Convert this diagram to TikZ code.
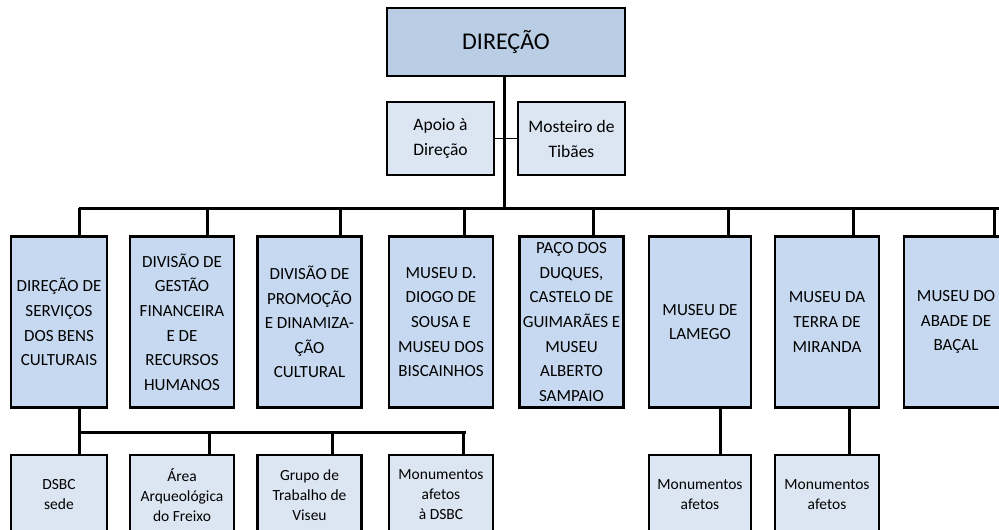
\documentclass[tikz,border=0pt]{standalone}
\usepackage{fontspec}
\setmainfont{Carlito}
\usetikzlibrary{positioning}

\definecolor{topblue}{RGB}{185,205,229}
\definecolor{unitblue}{RGB}{198,217,240}
\definecolor{paleblue}{RGB}{220,230,242}

\tikzset{
  topbox/.style={draw, line width=2.5pt, fill=topblue, minimum width=238pt, minimum height=68pt, inner sep=0pt, font=\fontsize{24}{28}\selectfont},
  sidebox/.style={draw, line width=2.5pt, fill=paleblue, minimum width=107pt, minimum height=73pt, inner sep=0pt, align=center, font=\fontsize{17.5}{25}\selectfont},
  unitbox/.style={draw, line width=2.5pt, fill=unitblue, minimum width=104pt, minimum height=171pt, inner sep=0pt, align=center, font=\fontsize{17}{24.6}\selectfont},
  subbox/.style={draw, line width=2.5pt, fill=paleblue, minimum width=104pt, minimum height=80pt, inner sep=0pt, align=center, font=\fontsize{15.5}{20}\selectfont},
  link/.style={line width=3pt},
}

\begin{document}
\begin{tikzpicture}[x=1pt,y=-1pt]
\clip (0,0) rectangle (999,530);
\fill[white] (0,0) rectangle (999,530);

%Top
\node[topbox] (dir) at (506,42) {DIREÇÃO};
\node[sidebox] (apoio) at (440.5,138.5) {Apoio à\\Direção};
\node[sidebox] (tibaes) at (571.5,138.5) {Mosteiro de\\Tibães};

%Units
\node[unitbox, minimum width=96pt] (dsbc) at (59,322) {DIREÇÃO DE\\SERVIÇOS\\DOS BENS\\CULTURAIS};
\node[unitbox] (dgf) at (182,322) {DIVISÃO DE\\GESTÃO\\FINANCEIRA\\E DE\\RECURSOS\\HUMANOS};
\node[unitbox] (dpd) at (309.5,322) {DIVISÃO DE\\PROMOÇÃO\\E DINAMIZA-\\ÇÃO\\CULTURAL};
\node[unitbox] (mdds) at (441,322) {MUSEU D.\\DIOGO DE\\SOUSA E\\MUSEU DOS\\BISCAINHOS};
\node[unitbox] (paco) at (571.5,322) {PAÇO DOS\\DUQUES,\\CASTELO DE\\GUIMARÃES E\\MUSEU\\ALBERTO\\SAMPAIO};
\node[unitbox, minimum width=102pt] (lamego) at (700,322) {MUSEU DE\\LAMEGO};
\node[unitbox] (miranda) at (827,322) {MUSEU DA\\TERRA DE\\MIRANDA};
\node[unitbox] (bacal) at (956,322) {MUSEU DO\\ABADE DE\\BAÇAL};

%Sub units
\node[subbox, minimum width=96pt] (sede) at (59,495) {DSBC\\sede};
\node[subbox] (freixo) at (182,495) {Área\\Arqueológica\\do Freixo};
\node[subbox] (viseu) at (309.5,495) {Grupo de\\Trabalho de\\Viseu};
\node[subbox] (monds) at (441,495) {Monumentos\\afetos\\à DSBC};
\node[subbox, minimum width=102pt] (monlam) at (700,495) {Monumentos\\afetos};
\node[subbox] (monmir) at (827,495) {Monumentos\\afetos};

%Links
\coordinate (bus) at (504,208);
\coordinate (subbus) at (79,432);
\draw[link] (dir.south -| bus) -- (bus);
\draw[line width=1.5pt] (apoio.east) -- (tibaes.west);
\draw[link] (79,208) -- (1005,208);
\foreach \n/\x in {dsbc/79, dgf/207, dpd/340, mdds/464, paco/593, lamego/728, miranda/853, bacal/994}
  \draw[link] (\x,208) -- (\n.north -| \x,0);

\draw[link] (dsbc.south -| subbus) -- (subbus) -- (466,432);
\foreach \n/\x in {sede/79, freixo/209, viseu/332, monds/463}
  \draw[link] (\x,432) -- (\n.north -| \x,0);

\draw[link] (lamego.south -| 720,0) -- (monlam.north -| 720,0);
\draw[link] (miranda.south -| 849,0) -- (monmir.north -| 849,0);

\end{tikzpicture}
\end{document}
